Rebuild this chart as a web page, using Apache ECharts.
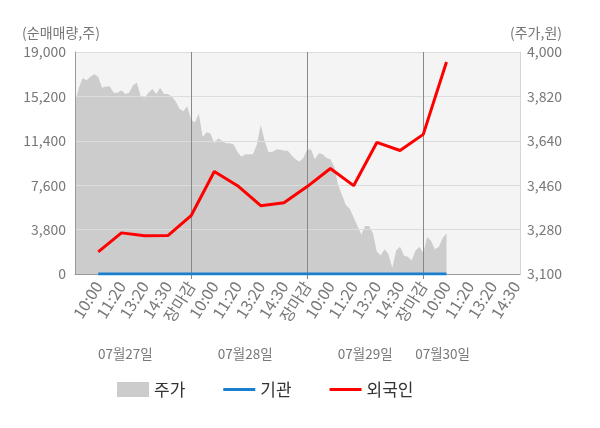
<!DOCTYPE html>
<html>
<head>
<meta charset="utf-8">
<script src="https://cdn.jsdelivr.net/npm/echarts@6/dist/echarts.min.js"></script>
<style>
    html, body, #main { width: 600px; height: 428px; margin: 0; background: #fff; }
</style>
</head>
<body>
<div id="main"></div>
<script>
// 날짜, 시간 라벨
var dates = ['07월27일', '07월28일', '07월29일', '07월30일'];
var times = ['10:00', '11:20', '13:20', '14:30'];
var closeLabel = '장마감';
var slotsPerDay = 30;      // 하루를 30칸으로
var slotCount = 116;

// 주가 (원) - 칸마다
var price = [
    3795, 3855, 3895, 3885, 3900, 3910, 3900, 3855, 3860, 3860,
    3835, 3835, 3845, 3830, 3835, 3865, 3875, 3820, 3815, 3835,
    3850, 3830, 3855, 3830, 3830, 3820, 3800, 3770, 3760, 3780,
    3725, 3715, 3750, 3655, 3675, 3670, 3630, 3650, 3640, 3630,
    3630, 3625, 3595, 3575, 3585, 3585, 3585, 3625, 3705, 3640,
    3595, 3595, 3605, 3605, 3600, 3600, 3580, 3565, 3555, 3570,
    3605, 3605, 3565, 3590, 3585, 3570, 3565, 3535, 3460, 3420,
    3380, 3365, 3330, 3295, 3260, 3295, 3295, 3265, 3190, 3175,
    3200, 3180, 3125, 3195, 3210, 3175, 3170, 3155, 3195, 3210,
    3185, 3250, 3235, 3200, 3210, 3245, 3265
];
// 순매매량 (주) - 라벨 시점마다 (10:00 첫날 ~ 10:00 30일)
var institution = [0, 0, 0, 0, 0, 0, 0, 0, 0, 0, 0, 0, 0, 0, 0, 0];
var foreign = [1890, 3520, 3270, 3290, 4990, 8770, 7560, 5850, 6100, 7480, 9030, 7560, 11260, 10570, 11950, 18140];
var dateLabelAt = [13, 44, 75, 95];

var categories = [], tickText = [], pointIdx = [];
for (var i = 0; i < slotCount; i++) {
    var d = Math.floor(i / slotsPerDay), s = i % slotsPerDay, t = '';
    if (s === 0 && i > 0) t = closeLabel;
    else if (s > 0 && s % 6 === 0) t = times[s / 6 - 1];
    categories.push(dates[d] + ' ' + (t || s));
    tickText.push(t);
    if (t && i >= 6) pointIdx.push(i);
}
function pairs(vals) {
    return vals.map(function (v, k) { return [pointIdx[k], v]; });
}
function isClose(idx) { return tickText[idx] === closeLabel; }

var font = 'Noto Sans CJK KR';
var myChart = echarts.init(document.getElementById('main'));
myChart.setOption({
    animation: false,
    textStyle: { fontFamily: font },
    grid: {
        left: 75, right: 80, top: 52, bottom: 154,
        show: true, backgroundColor: '#f4f4f4', borderWidth: 0
    },
    legend: {
        left: 112, top: 376,
        itemWidth: 32, itemHeight: 15, itemGap: 38,
        textStyle: { fontSize: 17, color: '#333', fontFamily: font },
        data: [
            { name: '주가', icon: 'rect' },
            { name: '기관', icon: 'path://M0,6h32v3H0z' },
            { name: '외국인', icon: 'path://M0,6h32v3H0z' }
        ]
    },
    xAxis: [{
        type: 'category',
        data: categories,
        boundaryGap: false,
        z: 3,
        axisLine: { lineStyle: { color: '#999' } },
        axisTick: {
            show: true, length: 5,
            interval: isClose,
            lineStyle: { color: '#888' }
        },
        splitLine: {
            show: true,
            interval: isClose,
            lineStyle: { color: '#888', width: 1 }
        },
        axisLabel: {
            interval: function (idx) { return tickText[idx] !== ''; },
            formatter: function (v, idx) { return tickText[idx]; },
            rotate: 58,
            margin: 9,
            fontSize: 16,
            color: function (v, idx) {
                if (isClose(idx)) return '#ff0000';
                if (idx === 96) return '#333';
                return '#777';
            }
        }
    }, {
        type: 'category',
        data: categories,
        boundaryGap: false,
        position: 'bottom',
        offset: 65,
        axisLine: { show: false },
        axisTick: { show: false },
        axisLabel: {
            interval: function (idx) { return dateLabelAt.indexOf(idx) >= 0; },
            formatter: function (v) { return v.split(' ')[0]; },
            fontSize: 13.5,
            color: '#777'
        }
    }],
    yAxis: [{
        type: 'value',
        min: 0, max: 19000, interval: 3800,
        z: 3,
        name: '(순매매량,주)',
        nameGap: 12,
        nameTextStyle: { color: '#777', fontSize: 14, align: 'center', padding: [0, 28, 0, 0] },
        axisLine: { show: true, lineStyle: { color: '#999' } },
        axisTick: { show: false },
        axisLabel: { color: '#777', fontSize: 14, margin: 9 },
        splitLine: { lineStyle: { color: '#dddddd' } }
    }, {
        type: 'value',
        min: 3100, max: 4000,
        alignTicks: true,
        position: 'right',
        name: '(주가,원)',
        nameGap: 12,
        nameTextStyle: { color: '#777', fontSize: 14, align: 'center', padding: [0, 0, 0, 32] },
        axisLine: { show: true, lineStyle: { color: '#d5d5d5' } },
        axisTick: { show: false },
        axisLabel: { color: '#777', fontSize: 14, margin: 7 },
        splitLine: { show: false }
    }],
    series: [{
        name: '주가',
        type: 'line',
        yAxisIndex: 1,
        data: price,
        symbol: 'none',
        z: 1,
        itemStyle: { color: '#cccccc' },
        lineStyle: { width: 0 },
        areaStyle: { color: '#cccccc', opacity: 1, origin: 'start' }
    }, {
        name: '기관',
        type: 'line',
        data: pairs(institution),
        symbol: 'none',
        z: 5,
        itemStyle: { color: '#1a7fcf' },
        lineStyle: { color: '#1a7fcf', width: 3 }
    }, {
        name: '외국인',
        type: 'line',
        data: pairs(foreign),
        symbol: 'none',
        z: 6,
        itemStyle: { color: '#ff0000' },
        lineStyle: { color: '#ff0000', width: 3 }
    }]
});
</script>
</body>
</html>
